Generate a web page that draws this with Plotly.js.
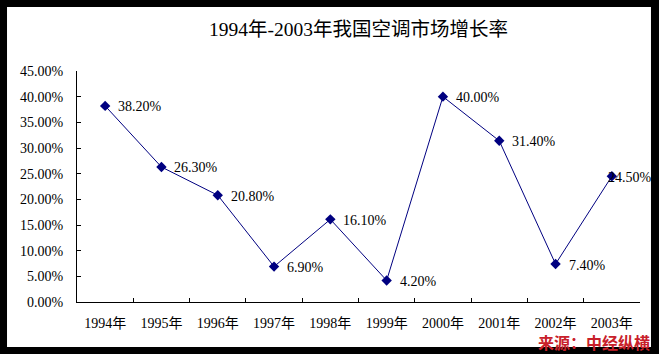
<!DOCTYPE html>
<html>
<head>
<meta charset="utf-8">
<script src="https://cdn.plot.ly/plotly-3.0.1.min.js"></script>
<style>
  html, body { margin: 0; padding: 0; background: #fff; }
  #chart { width: 659px; height: 354px; }
</style>
</head>
<body>
<div id="chart"></div>
<script>
// Data
const years = ["1994年", "1995年", "1996年", "1997年", "1998年", "1999年", "2000年", "2001年", "2002年", "2003年"];
const growthRate = [38.2, 26.3, 20.8, 6.9, 16.1, 4.2, 40.0, 31.4, 7.4, 24.5];
const chartTitle = "1994年-2003年我国空调市场增长率";
const sourceNote = "来源：中经纵横";

const FONT = "'Liberation Serif', 'Noto Sans CJK SC', serif";
const LINE_COLOR = "#000080";

const trace = {
  type: "scatter",
  mode: "lines+markers",
  x: years,
  y: growthRate,
  line: { color: LINE_COLOR, width: 1 },
  marker: { symbol: "diamond", size: 8, color: LINE_COLOR },
  hoverinfo: "skip",
  cliponaxis: false
};

// data labels (last one pushed left to stay inside the chart, as in the original)
const labelAnnotations = years.map((yr, i) => ({
  x: yr,
  y: growthRate[i],
  xref: "x",
  yref: "y",
  text: growthRate[i].toFixed(2) + "%",
  showarrow: false,
  xanchor: "left",
  yanchor: "middle",
  xshift: i === years.length - 1 ? -6 : 11,
  yshift: -1,
  font: { family: FONT, size: 14, color: "#000" }
}));

const borderColor = "#000";
const shapes = [
  { type: "rect", xref: "paper", yref: "paper", x0: -1, x1: 2, y0: 1.2771, y1: 2, fillcolor: borderColor, line: { width: 0 }, layer: "above" },
  { type: "rect", xref: "paper", yref: "paper", x0: -1, x1: 2, y0: -2, y1: -0.1948, fillcolor: borderColor, line: { width: 0 }, layer: "above" },
  { type: "rect", xref: "paper", yref: "paper", x0: -1, x1: -0.1243, y0: -2, y1: 2, fillcolor: borderColor, line: { width: 0 }, layer: "above" },
  { type: "rect", xref: "paper", yref: "paper", x0: 1.0195, x1: 2, y0: -2, y1: 2, fillcolor: borderColor, line: { width: 0 }, layer: "above" }
];

const layout = {
  width: 659,
  height: 354,
  margin: { l: 77, r: 19, t: 71, b: 52, pad: 0, autoexpand: false },
  paper_bgcolor: "#fff",
  plot_bgcolor: "#fff",
  showlegend: false,
  font: { family: FONT, size: 14, color: "#000" },
  title: {
    text: chartTitle,
    font: { family: FONT, size: 19.5, color: "#000" },
    x: 0.5,
    xanchor: "center",
    xref: "paper",
    y: 1 - 29 / 354,
    yanchor: "middle",
    yref: "container"
  },
  xaxis: {
    type: "category",
    range: [-0.5, years.length - 0.5],
    automargin: false,
    showline: true,
    linecolor: "#000",
    linewidth: 1,
    showgrid: false,
    zeroline: false,
    ticks: "inside",
    ticklen: 4,
    tickcolor: "#000",
    tickson: "boundaries",
    ticklabelstandoff: 8,
    tickfont: { family: FONT, size: 14, color: "#000" },
    fixedrange: true
  },
  yaxis: {
    range: [0, 45],
    automargin: false,
    dtick: 5,
    tick0: 0,
    tickformat: ".2f",
    ticksuffix: "%",
    showline: true,
    linecolor: "#000",
    linewidth: 1,
    showgrid: false,
    zeroline: false,
    ticks: "inside",
    ticklen: 4,
    tickcolor: "#000",
    ticklabelstandoff: 10,
    tickfont: { family: FONT, size: 14, color: "#000" },
    fixedrange: true
  },
  shapes: shapes,
  annotations: labelAnnotations.concat([{
    xref: "paper",
    yref: "paper",
    x: 1.0213,
    y: -0.1732,
    xanchor: "right",
    yanchor: "middle",
    showarrow: false,
    text: "<b>" + sourceNote + "</b>",
    font: { family: "'Noto Sans CJK SC', sans-serif", size: 16, color: "#c8202a" }
  }])
};

Plotly.newPlot("chart", [trace], layout, { displayModeBar: false, staticPlot: true });
</script>
</body>
</html>
